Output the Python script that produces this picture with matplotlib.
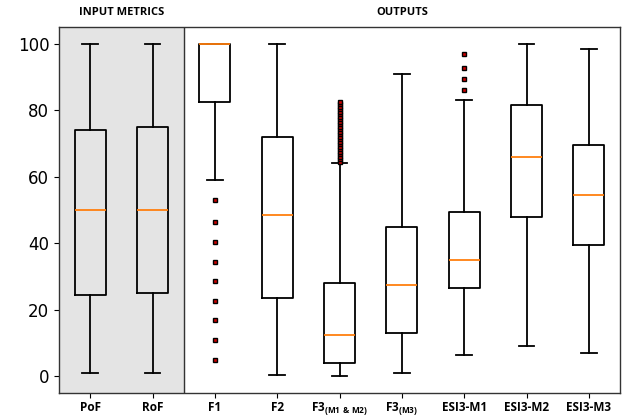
import numpy as np
import matplotlib.pyplot as plt

labels = ["PoF", "RoF", "F1", "F2",
          "F3$_{\\mathbf{(M1\\ &\\ M2)}}$", "F3$_{\\mathbf{(M3)}}$",
          "ESI3-M1", "ESI3-M2", "ESI3-M3"]
whislo = [1.0, 1.0, 59.0, 0.5, 0.0, 1.0, 6.5, 9.0, 7.0]
q1 = [24.5, 25.0, 82.5, 23.5, 4.0, 13.0, 26.5, 48.0, 39.5]
med = [50.0, 50.0, 100.0, 48.5, 12.5, 27.5, 35.0, 66.0, 54.5]
q3 = [74.0, 75.0, 100.0, 72.0, 28.0, 45.0, 49.5, 81.5, 69.5]
whishi = [100.0, 100.0, 100.0, 100.0, 64.0, 91.0, 83.0, 100.0, 98.5]
fliers = [
    [],
    [],
    [53.0, 46.5, 40.5, 34.5, 28.6, 22.7, 16.8, 10.9, 5.0],
    [],
    [64.5, 65.2, 66.0, 66.8, 67.5, 68.3, 69.0, 69.8, 70.5, 71.3, 72.0,
     72.8, 73.5, 74.3, 75.0, 75.8, 76.5, 77.3, 78.0, 78.8, 79.5, 80.3,
     81.0, 81.8, 82.5],
    [],
    [86.0, 89.5, 92.8, 96.8],
    [],
    [],
]

plt.rcParams['mathtext.fontset'] = 'custom'
plt.rcParams['mathtext.bf'] = 'Open Sans:bold'
plt.rcParams['mathtext.rm'] = 'Open Sans'

stats = []
for i in range(len(labels)):
    stats.append(dict(label=labels[i], whislo=whislo[i], q1=q1[i], med=med[i],
                      q3=q3[i], whishi=whishi[i], fliers=fliers[i]))

fig = plt.figure(figsize=(6.22, 4.18), dpi=100)
ax = fig.add_axes([0.0949, 0.0598, 0.9019, 0.8756])

ax.axvspan(0.5, 2.5, color='#e4e4e4', zorder=0)
ax.axvline(2.5, color='#333333', lw=1.0, zorder=1)
for s in ax.spines.values():
    s.set_color('#333333')
    s.set_linewidth(1.0)

ax.bxp(stats, showfliers=True, widths=0.5,
       boxprops=dict(color='black', lw=1.3),
       whiskerprops=dict(color='black', lw=1.3),
       capprops=dict(color='black', lw=1.3),
       medianprops=dict(color='#ff7f0e', lw=1.3),
       flierprops=dict(marker='s', markersize=3.5, markerfacecolor='#cc0000',
                       markeredgecolor='black', markeredgewidth=1.0, linestyle='none'))

ax.set_xlim(0.5, 9.5)
ax.set_ylim(-5, 105)
ax.set_yticks([0, 20, 40, 60, 80, 100])
ax.tick_params(axis='y', labelsize=12)
ax.tick_params(axis='x', pad=2)
ax.set_xticks(range(1, 10))
ax.set_xticklabels(labels, fontsize=8.5, fontweight='bold', family='Open Sans')

ax.text(1.5, 1.025, "INPUT METRICS", transform=ax.get_xaxis_transform(),
        ha='center', va='bottom', fontsize=8, fontweight='bold', family='Open Sans')
ax.text(6.0, 1.025, "OUTPUTS", transform=ax.get_xaxis_transform(),
        ha='center', va='bottom', fontsize=8, fontweight='bold', family='Open Sans')

fig.savefig("out.png", dpi=100)
